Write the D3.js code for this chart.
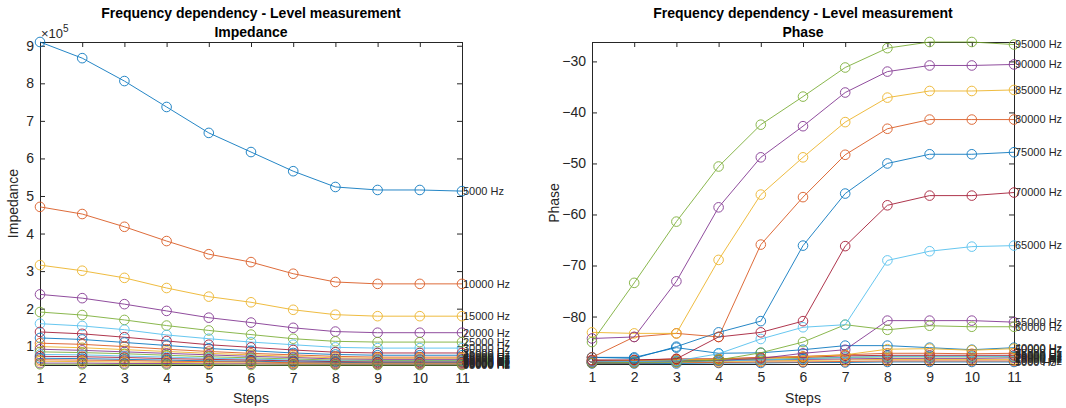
<!DOCTYPE html>
<html lang="en">
<head>
<meta charset="UTF-8" />
<title>Frequency dependency</title>
<script src="https://d3js.org/d3.v7.min.js"></script>
<style>
  body { margin: 0; background: #fff; }
  svg { font-family: "Liberation Sans", Arial, sans-serif; }
  .title { font-size: 14px; font-weight: bold; fill: #000; }
  .lab { font-size: 14px; fill: #262626; }
  .hz { font-size: 11px; fill: #262626; }
</style>
</head>
<body>
<svg width="1066" height="408"></svg>
<script>
  const steps = [1, 2, 3, 4, 5, 6, 7, 8, 9, 10, 11];
  const freqs = [5000, 10000, 15000, 20000, 25000, 30000, 35000, 40000, 45000, 50000,
                 55000, 60000, 65000, 70000, 75000, 80000, 85000, 90000, 95000];
  const colors = ["#0072BD", "#D95319", "#EDB120", "#7E2F8E", "#77AC30", "#4DBEEE", "#A2142F"];

  // impedance, in units of 1e5
  const impedance = [
    [9.10, 8.67, 8.06, 7.37, 6.68, 6.17, 5.66, 5.24, 5.16, 5.16, 5.13],
    [4.71, 4.52, 4.18, 3.80, 3.45, 3.24, 2.93, 2.71, 2.66, 2.66, 2.66],
    [3.16, 3.01, 2.82, 2.55, 2.32, 2.17, 1.97, 1.84, 1.80, 1.80, 1.80],
    [2.38, 2.28, 2.12, 1.94, 1.76, 1.63, 1.49, 1.39, 1.36, 1.36, 1.36],
    [1.91, 1.83, 1.70, 1.55, 1.42, 1.31, 1.20, 1.13, 1.11, 1.11, 1.11],
    [1.60, 1.54, 1.44, 1.30, 1.20, 1.11, 1.04, 0.97, 0.95, 0.95, 0.95],
    [1.38, 1.33, 1.24, 1.14, 1.04, 0.97, 0.90, 0.84, 0.82, 0.82, 0.82],
    [1.22, 1.18, 1.10, 1.02, 0.94, 0.88, 0.82, 0.78, 0.76, 0.76, 0.76],
    [1.08, 1.05, 0.99, 0.92, 0.86, 0.81, 0.77, 0.73, 0.71, 0.71, 0.71],
    [0.99, 0.96, 0.91, 0.86, 0.81, 0.77, 0.73, 0.69, 0.68, 0.68, 0.68],
    [0.92, 0.89, 0.85, 0.81, 0.77, 0.73, 0.70, 0.66, 0.65, 0.65, 0.65],
    [0.85, 0.83, 0.80, 0.76, 0.72, 0.69, 0.66, 0.63, 0.62, 0.62, 0.62],
    [0.78, 0.77, 0.74, 0.71, 0.68, 0.66, 0.63, 0.61, 0.60, 0.60, 0.60],
    [0.73, 0.72, 0.70, 0.67, 0.65, 0.63, 0.61, 0.59, 0.58, 0.58, 0.58],
    [0.68, 0.67, 0.65, 0.63, 0.61, 0.60, 0.58, 0.57, 0.56, 0.56, 0.56],
    [0.64, 0.63, 0.62, 0.60, 0.59, 0.58, 0.56, 0.55, 0.55, 0.55, 0.55],
    [0.60, 0.59, 0.58, 0.57, 0.56, 0.55, 0.54, 0.53, 0.53, 0.53, 0.53],
    [0.55, 0.55, 0.54, 0.54, 0.53, 0.53, 0.52, 0.52, 0.52, 0.52, 0.52],
    [0.52, 0.52, 0.51, 0.51, 0.51, 0.50, 0.50, 0.50, 0.50, 0.50, 0.50]
  ];

  const phase = [
    [-89.2, -89.2, -89.2, -89.1, -89.1, -89.0, -89.0, -88.9, -88.9, -88.9, -88.9],
    [-89.1, -89.1, -89.0, -89.0, -88.9, -88.9, -88.8, -88.7, -88.7, -88.7, -88.7],
    [-89.0, -88.9, -88.9, -88.8, -88.7, -88.6, -88.5, -88.4, -88.4, -88.4, -88.4],
    [-88.9, -88.8, -88.7, -88.6, -88.5, -88.4, -88.3, -88.2, -88.2, -88.2, -88.1],
    [-88.8, -88.7, -88.6, -88.5, -88.4, -88.2, -88.0, -87.9, -87.9, -87.9, -87.9],
    [-88.9, -88.9, -88.9, -88.7, -88.5, -88.3, -88.0, -87.8, -87.8, -87.8, -87.8],
    [-88.5, -88.6, -88.3, -88.3, -88.1, -88.0, -87.7, -87.6, -87.6, -87.6, -87.6],
    [-88.0, -88.0, -86.1, -87.2, -87.1, -86.5, -85.7, -85.7, -86.1, -86.5, -86.1],
    [-88.7, -88.6, -88.5, -88.3, -88.0, -87.8, -87.5, -87.2, -87.2, -87.3, -87.2],
    [-88.6, -88.6, -88.4, -88.4, -88.2, -87.9, -87.5, -86.4, -86.3, -86.6, -86.3],
    [-89.0, -88.9, -88.8, -88.6, -88.2, -87.2, -86.5, -80.8, -80.8, -80.8, -81.1],
    [-89.1, -89.0, -88.9, -88.5, -87.1, -85.0, -81.6, -82.6, -81.8, -82.0, -82.0],
    [-88.7, -88.8, -88.7, -87.3, -84.4, -82.1, -81.6, -69.0, -67.2, -66.3, -66.1],
    [-88.6, -88.5, -88.3, -84.0, -83.1, -80.9, -66.2, -58.2, -56.3, -56.3, -55.7],
    [-88.0, -88.2, -85.9, -83.1, -80.9, -66.1, -55.9, -50.0, -48.2, -48.2, -47.8],
    [-88.0, -84.0, -83.3, -84.0, -65.9, -56.6, -48.3, -43.2, -41.4, -41.4, -41.4],
    [-83.1, -83.3, -83.3, -68.9, -56.1, -48.8, -41.9, -37.1, -35.8, -35.8, -35.6],
    [-84.3, -84.0, -73.1, -58.6, -48.8, -42.7, -36.1, -32.0, -30.8, -30.8, -30.6],
    [-85.0, -73.4, -61.4, -50.6, -42.4, -36.9, -31.2, -27.4, -26.2, -26.2, -26.7]
  ];

  const impTicks = [1, 2, 3, 4, 5, 6, 7, 8, 9];
  const phaseTicks = [-80, -70, -60, -50, -40, -30];

  const svg = d3.select("svg");

  function panel(opts) {
    const x = d3.scaleLinear().domain([1, 11]).range([opts.left, opts.right]);
    const y = d3.scaleLinear().domain(opts.domain).range([opts.bottom, opts.top]);
    const g = svg.append("g");

    // axes (ticks inward, box on)
    g.append("g").attr("transform", `translate(0,${opts.bottom})`)
      .call(d3.axisBottom(x).tickValues(steps).tickSize(-5).tickPadding(8).tickFormat(d3.format("d")));
    g.append("g").attr("transform", `translate(0,${opts.top})`)
      .call(d3.axisTop(x).tickValues(steps).tickSize(-5).tickFormat(""));
    g.append("g").attr("transform", `translate(${opts.left},0)`)
      .call(d3.axisLeft(y).tickValues(opts.ticks).tickSize(-5).tickPadding(6));
    g.append("g").attr("transform", `translate(${opts.right},0)`)
      .call(d3.axisRight(y).tickValues(opts.ticks).tickSize(-5).tickFormat(""));
    g.selectAll(".domain").attr("stroke", "#262626");
    g.selectAll(".tick line").attr("stroke", "#262626");
    g.selectAll(".tick text").attr("font-size", 14).attr("fill", "#262626")
      .attr("font-family", "Liberation Sans, Arial, sans-serif");

    const line = d3.line().x((d, i) => x(steps[i])).y(d => y(d));
    opts.data.forEach((s, k) => {
      const c = colors[k % colors.length];
      const sg = g.append("g").attr("opacity", 0.85);
      sg.append("path").attr("d", line(s)).attr("fill", "none")
        .attr("stroke", c).attr("stroke-width", 1);
      sg.selectAll(null).data(s).enter().append("circle")
        .attr("cx", (d, i) => x(steps[i])).attr("cy", d => y(d)).attr("r", 4.8)
        .attr("fill", "none").attr("stroke", c).attr("stroke-width", 1);
    });
    opts.data.forEach((s, k) => {
      g.append("text").attr("class", "hz")
        .attr("x", x(11) + 1).attr("y", y(s[s.length - 1])).attr("dy", "0.35em")
        .text(freqs[k] + " Hz");
    });

    const cx = (opts.left + opts.right) / 2;
    g.append("text").attr("class", "title").attr("x", cx).attr("y", 18)
      .attr("text-anchor", "middle").text("Frequency dependency - Level measurement");
    g.append("text").attr("class", "title").attr("x", cx).attr("y", 37)
      .attr("text-anchor", "middle").text(opts.sub);
    g.append("text").attr("class", "lab").attr("x", cx).attr("y", 403)
      .attr("text-anchor", "middle").text("Steps");
    g.append("text").attr("class", "lab")
      .attr("transform", `translate(${opts.ylabX},${(opts.top + opts.bottom) / 2}) rotate(-90)`)
      .attr("text-anchor", "middle").text(opts.ylab);
    return g;
  }

  const gl = panel({
    left: 40, right: 462, top: 42, bottom: 365,
    domain: [0.5, 9.1], ticks: impTicks, data: impedance,
    sub: "Impedance", ylab: "Impedance", ylabX: 18
  });
  const ex = gl.append("text").attr("x", 41).attr("y", 38).attr("font-size", 13).attr("fill", "#262626");
  ex.append("tspan").text("×10");
  ex.append("tspan").attr("dy", -6).attr("font-size", 10).text("5");

  panel({
    left: 592, right: 1014, top: 42, bottom: 364,
    domain: [-89.3, -26.2], ticks: phaseTicks, data: phase,
    sub: "Phase", ylab: "Phase", ylabX: 559
  });
</script>
</body>
</html>
